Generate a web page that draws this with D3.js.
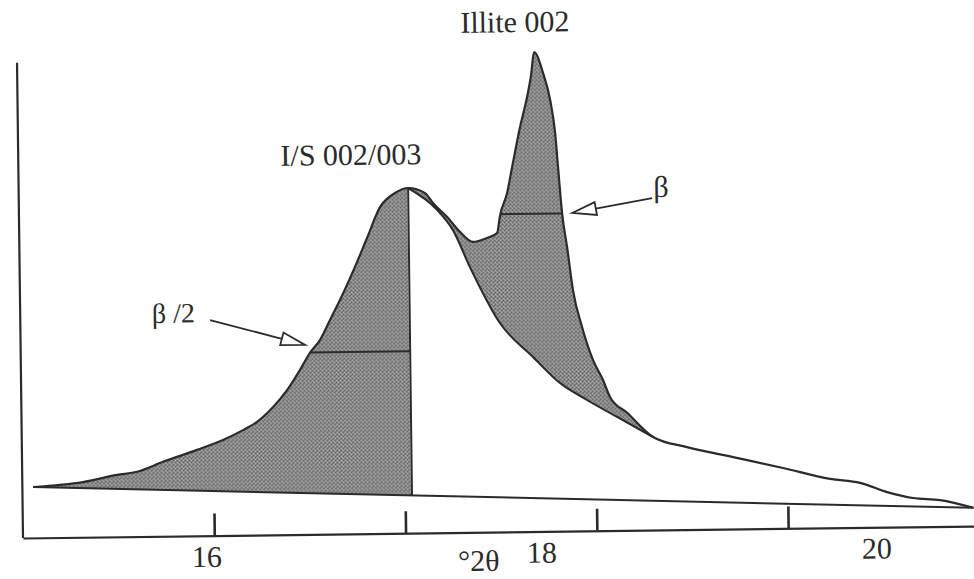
<!DOCTYPE html>
<html>
<head>
<meta charset="utf-8">
<script src="https://cdn.jsdelivr.net/npm/d3@7"></script>
<style>
  html, body { margin: 0; padding: 0; background: #ffffff; }
  svg { display: block; }
</style>
</head>
<body>
<svg id="chart" width="974" height="579"></svg>
<script>
// X-ray diffraction profile: degrees 2θ against relative intensity.
// Full measured envelope (I/S 002/003 plus illite 002).
const outerTwoTheta = [
  15.056, 15.317, 15.496, 15.600, 15.737, 15.915, 16.052, 16.157, 16.231, 16.315,
  16.390, 16.459, 16.512, 16.566, 16.619, 16.673, 16.764, 16.818, 16.888,
  16.967, 17.036, 17.124, 17.165, 17.237, 17.305, 17.372, 17.445, 17.498, 17.515,
  17.553, 17.581, 17.625, 17.664, 17.686, 17.703, 17.749, 17.784, 17.808, 17.821,
  17.839, 17.863, 17.891, 17.936, 17.991, 18.042, 18.078, 18.166, 18.300, 18.477,
  18.717, 18.977, 19.222, 19.379, 19.520, 19.655, 19.796, 19.970
];
const outerIntensity = [
  10.6, 11.5, 12.9, 13.5, 15.5, 17.9, 19.9, 21.9, 23.6, 26.6,
  30.1, 34.3, 37.8, 40.5, 44.6, 48.8, 56.6, 61.6, 68.0,
  70.9, 71.9, 70.8, 68.7, 65.8, 62.6, 60.5, 61.3, 62.3, 66.0,
  70.6, 76.0, 84.3, 90.6, 95.1, 99.9, 95.5, 89.9, 83.0, 75.9,
  66.3, 59.2, 50.2, 42.5, 35.6, 31.4, 27.8, 24.5, 19.4, 17.2,
  15.0, 12.6, 10.2, 9.3, 7.3, 6.0, 5.5, 3.8
];

// High-angle half of the I/S peak (mirror of its low-angle side).
const innerTwoTheta = [17.036, 17.186, 17.268, 17.354, 17.508, 17.678, 17.817, 17.957, 18.113, 18.300];
const innerIntensity = [71.9, 67.3, 63.0, 55.3, 43.5, 36.4, 30.9, 27.3, 23.7, 19.4];

// Background line under the profile.
const baselineTwoTheta = [15.056, 19.970];
const baselineIntensity = [10.6, 3.8];

const isPeakTwoTheta = 17.036;
const illiteEndTwoTheta = 18.300;

// Width-at-half-height segments: I/S (β/2) and illite (β).
const halfWidthFrom = [16.515, 17.515];
const halfWidthTo = [17.036, 17.839];
const halfWidthLevel = [37.9, 66.2];

// Axis ticks and their printed labels.
const tickValues = [16, 17, 18, 19];
const tickLabels = ["16", "18", "20"];
const tickLabelTwoTheta = [15.960, 17.711, 19.463];

// ---------------------------------------------------------------
const ink = "#2b2b2b";
const serif = "'Liberation Serif', 'Times New Roman', serif";

const svg = d3.select("#chart");

// stippled grey used for the shaded peak areas
const defs = svg.append("defs");
const pat = defs.append("pattern")
  .attr("id", "stipple")
  .attr("width", 4).attr("height", 4)
  .attr("patternUnits", "userSpaceOnUse");
pat.append("rect").attr("width", 4).attr("height", 4).attr("fill", "#898989");
[[0, 0, "#585858"], [2, 2, "#585858"], [2, 0, "#b0b0b0"], [0, 2, "#b0b0b0"], [1, 3, "#707070"], [3, 1, "#a0a0a0"]]
  .forEach(([px, py, c]) => pat.append("rect").attr("x", px).attr("y", py).attr("width", 1).attr("height", 1).attr("fill", c));

const x = d3.scaleLinear().domain([15, 20]).range([23, 979.5]);
const y = d3.scaleLinear().domain([0, 100]).range([538, 58]);
const baseAt = d3.scaleLinear().domain(baselineTwoTheta).range(baselineIntensity);

// the whole plate sits slightly tilted
const g = svg.append("g").attr("transform", `rotate(-0.72, ${x(15)}, ${y(0)})`);

const outer = outerTwoTheta.map((t, i) => ({ t, v: outerIntensity[i] }));
const inner = innerTwoTheta.map((t, i) => ({ t, v: innerIntensity[i] }));

const area = d3.area()
  .x(d => x(d.t))
  .y0(d => y(baseAt(d.t)))
  .y1(d => y(d.v))
  .curve(d3.curveMonotoneX);
const line = d3.line()
  .x(d => x(d.t))
  .y(d => y(d.v))
  .curve(d3.curveMonotoneX);

// shaded: everything under the envelope up to where the illite peak ends
g.append("path")
  .datum(outer.filter(d => d.t <= illiteEndTwoTheta + 1e-9))
  .attr("d", area)
  .attr("fill", "url(#stipple)");
// the high-angle half of the I/S peak stays white
g.append("path")
  .datum(inner)
  .attr("d", area)
  .attr("fill", "#ffffff")
  .attr("stroke", "#ffffff").attr("stroke-width", 2);

// background line
g.append("line")
  .attr("x1", x(baselineTwoTheta[0])).attr("y1", y(baselineIntensity[0]))
  .attr("x2", x(baselineTwoTheta[1])).attr("y2", y(baselineIntensity[1]))
  .attr("stroke", ink).attr("stroke-width", 2);

// envelope and the I/S half profile
g.append("path").datum(outer).attr("d", line)
  .attr("fill", "none").attr("stroke", ink).attr("stroke-width", 2.2).attr("stroke-linejoin", "round");
g.append("path").datum(inner).attr("d", line)
  .attr("fill", "none").attr("stroke", ink).attr("stroke-width", 2.2).attr("stroke-linejoin", "round");

// vertical through the I/S maximum
const isPeakValue = outerIntensity[outerTwoTheta.indexOf(isPeakTwoTheta)];
g.append("line")
  .attr("x1", x(isPeakTwoTheta)).attr("y1", y(baseAt(isPeakTwoTheta)))
  .attr("x2", x(isPeakTwoTheta)).attr("y2", y(isPeakValue))
  .attr("stroke", ink).attr("stroke-width", 2);

// half-height segments
halfWidthLevel.forEach((lv, i) => {
  g.append("line")
    .attr("x1", x(halfWidthFrom[i])).attr("y1", y(lv))
    .attr("x2", x(halfWidthTo[i])).attr("y2", y(lv))
    .attr("stroke", ink).attr("stroke-width", 2);
});

// axes
const xAxis = g.append("g")
  .attr("transform", `translate(0,${y(0)})`)
  .call(d3.axisTop(x).tickValues(tickValues).tickSize(22).tickSizeOuter(0).tickFormat(""));
xAxis.select(".domain").attr("stroke", ink).attr("stroke-width", 2.2);
xAxis.selectAll(".tick line").attr("stroke", ink).attr("stroke-width", 2.6);

g.append("line")
  .attr("x1", x(15)).attr("y1", y(0))
  .attr("x2", x(15)).attr("y2", y(99))
  .attr("stroke", ink).attr("stroke-width", 2.2);

// tick labels
tickLabels.forEach((lab, i) => {
  g.append("text")
    .attr("x", x(tickLabelTwoTheta[i])).attr("y", y(-6.5))
    .attr("text-anchor", "middle")
    .attr("font-family", serif).attr("font-size", 30)
    .attr("fill", ink)
    .text(lab);
});
// axis title
g.append("text")
  .attr("x", x(17.381)).attr("y", y(-8.06))
  .attr("text-anchor", "middle")
  .attr("font-family", serif).attr("font-size", 30)
  .attr("fill", ink)
  .text("°2θ");

// peak names
const labels = [
  { text: "Illite 002", t: 17.605, v: 104.1, size: 30, anchor: "middle" },
  { text: "I/S 002/003", t: 16.739, v: 76.85, size: 30, anchor: "middle" },
  { text: "β /2", t: 15.688, v: 44.46, size: 28, anchor: "start" },
  { text: "β", t: 18.358, v: 69.4, size: 30, anchor: "middle" }
];
labels.forEach(l => {
  g.append("text")
    .attr("x", x(l.t)).attr("y", y(l.v))
    .attr("text-anchor", l.anchor)
    .attr("font-family", serif).attr("font-size", l.size)
    .attr("fill", ink)
    .text(l.text);
});

// open-headed pointers
function pointer(t0, v0, t1, v1) {
  const x0 = x(t0), y0 = y(v0), x1 = x(t1), y1 = y(v1);
  const dx = x1 - x0, dy = y1 - y0, len = Math.hypot(dx, dy);
  const ux = dx / len, uy = dy / len;
  const headLen = 24, halfW = 6.5;
  const bx = x1 - ux * headLen, by = y1 - uy * headLen;
  g.append("line")
    .attr("x1", x0).attr("y1", y0).attr("x2", bx).attr("y2", by)
    .attr("stroke", ink).attr("stroke-width", 1.8);
  g.append("path")
    .attr("d", `M${x1},${y1}L${bx - uy * halfW},${by + ux * halfW}L${bx + uy * halfW},${by - ux * halfW}Z`)
    .attr("fill", "#ffffff").attr("stroke", ink).attr("stroke-width", 1.8).attr("stroke-linejoin", "miter");
}
pointer(15.992, 44.92, 16.487, 39.48);
pointer(18.311, 69.17, 17.892, 66.27);
</script>
</body>
</html>
